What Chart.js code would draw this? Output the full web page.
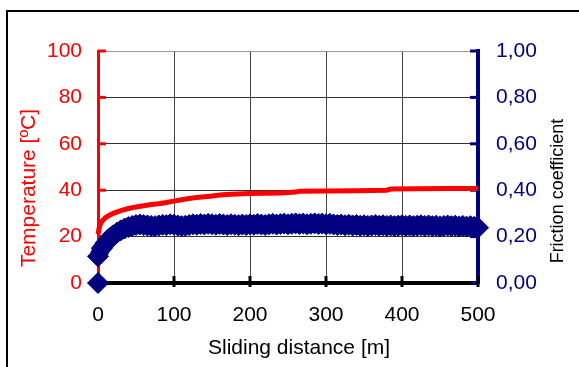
<!DOCTYPE html>
<html>
<head>
<meta charset="utf-8">
<script src="https://cdn.jsdelivr.net/npm/chart.js@4/dist/chart.umd.min.js"></script>
<style>
  html, body { margin: 0; padding: 0; background: #fff; }
  #wrap { width: 579px; height: 367px; position: relative; }
</style>
</head>
<body>
<div id="wrap"><canvas id="c" width="579" height="367"></canvas></div>
<script>
// Temperature trace: sliding distance [m] and temperature [ºC]
const tempDistance = [0, 2, 5, 10, 15, 20, 30, 40, 50, 60, 70, 80, 90, 100, 110, 120, 130, 140, 150, 160, 175, 200, 220, 240, 260, 265, 300, 340, 380, 385, 420, 460, 500];
const temperature  = [21, 24.5, 26.5, 28.2, 29.2, 30, 31.2, 32.1, 32.8, 33.3, 33.8, 34.2, 34.7, 35.3, 35.9, 36.4, 36.9, 37.2, 37.5, 37.9, 38.3, 38.6, 38.7, 38.8, 39.2, 39.6, 39.7, 39.8, 40.0, 40.5, 40.6, 40.7, 40.7];

// Friction coefficient record: sliding distance [m] and coefficient
const frictionDistance = [0, 0, 5, 10, 15, 20, 25, 30, 35, 40, 45, 50, 55, 60, 65, 70, 75, 80, 85, 90, 95,
  100, 105, 110, 115, 120, 125, 130, 135, 140, 145, 150, 155, 160, 165, 170, 175, 180, 185, 190, 195,
  200, 205, 210, 215, 220, 225, 230, 235, 240, 245, 250, 255, 260, 265, 270, 275, 280, 285, 290, 295,
  300, 305, 310, 315, 320, 325, 330, 335, 340, 345, 350, 355, 360, 365, 370, 375, 380, 385, 390, 395,
  400, 405, 410, 415, 420, 425, 430, 435, 440, 445, 450, 455, 460, 465, 470, 475, 480, 485, 490, 495, 500];
const friction = [0.000, 0.115, 0.150, 0.172, 0.190, 0.205, 0.217, 0.227, 0.235, 0.241, 0.246, 0.250, 0.252, 0.250, 0.248, 0.246, 0.245, 0.248, 0.251, 0.249, 0.253,
  0.251, 0.248, 0.245, 0.247, 0.250, 0.253, 0.251, 0.254, 0.252, 0.255, 0.253, 0.251, 0.254, 0.252, 0.250, 0.253, 0.251, 0.249, 0.252, 0.250,
  0.253, 0.251, 0.254, 0.252, 0.250, 0.253, 0.255, 0.252, 0.254, 0.256, 0.253, 0.255, 0.257, 0.254, 0.256, 0.253, 0.255, 0.257, 0.254, 0.256,
  0.253, 0.255, 0.252, 0.250, 0.252, 0.249, 0.251, 0.248, 0.250, 0.247, 0.249, 0.246, 0.248, 0.250, 0.247, 0.249, 0.246, 0.248, 0.245, 0.247,
  0.249, 0.246, 0.248, 0.245, 0.247, 0.249, 0.246, 0.248, 0.245, 0.247, 0.244, 0.246, 0.248, 0.245, 0.247, 0.244, 0.246, 0.243, 0.245, 0.242, 0.238];

// Axis tick settings
const tempTicks = { min: 0, max: 100, step: 20 };
const frictionTicks = { min: 0, max: 1, step: 0.2 };
const distanceTicks = { min: 0, max: 500, step: 100 };

const RED = '#ff0000';
const NAVY = '#000080';
const FONT = '"Liberation Sans", Arial, sans-serif';

const pairs = (xs, ys) => xs.map((x, i) => ({ x: x, y: ys[i] }));

// Frame, inward tick marks and axis titles
const decorations = {
  id: 'decorations',
  beforeDraw(chart) {
    const ctx = chart.ctx;
    ctx.save();
    ctx.fillStyle = '#fff';
    ctx.fillRect(0, 0, chart.width, chart.height);
    ctx.strokeStyle = '#000';
    ctx.lineWidth = 2;
    ctx.beginPath();
    ctx.moveTo(7, chart.height);
    ctx.lineTo(7, 11);
    ctx.lineTo(chart.width, 11);
    ctx.stroke();
    ctx.restore();
  },
  beforeDatasetsDraw(chart) {
    const ctx = chart.ctx;
    const { x, y, y1 } = chart.scales;
    const area = chart.chartArea;
    ctx.save();
    ctx.lineWidth = 3;
    ctx.strokeStyle = RED;
    y.ticks.forEach(t => {
      const py = y.getPixelForValue(t.value);
      ctx.beginPath(); ctx.moveTo(area.left, py); ctx.lineTo(area.left + 8, py); ctx.stroke();
    });
    ctx.strokeStyle = NAVY;
    y1.ticks.forEach(t => {
      const py = y1.getPixelForValue(t.value);
      ctx.beginPath(); ctx.moveTo(area.right, py); ctx.lineTo(area.right - 8, py); ctx.stroke();
    });
    ctx.strokeStyle = '#000';
    x.ticks.forEach(t => {
      const px = x.getPixelForValue(t.value);
      ctx.beginPath(); ctx.moveTo(px, area.bottom - 7); ctx.lineTo(px, area.bottom + 4); ctx.stroke();
    });
    ctx.restore();
  },
  afterDraw(chart) {
    const ctx = chart.ctx;
    ctx.save();
    ctx.textAlign = 'center';
    ctx.textBaseline = 'middle';
    // left title
    ctx.fillStyle = RED;
    ctx.font = '21px ' + FONT;
    ctx.translate(29, 188);
    ctx.rotate(-Math.PI / 2);
    ctx.fillText('Temperature [ºC]', 0, 0);
    ctx.setTransform(1, 0, 0, 1, 0, 0);
    // right title
    ctx.fillStyle = '#000';
    ctx.font = '18px ' + FONT;
    ctx.translate(558, 191);
    ctx.rotate(-Math.PI / 2);
    ctx.fillText('Friction coefficient', 0, 0);
    ctx.setTransform(1, 0, 0, 1, 0, 0);
    // bottom title
    ctx.font = '21px ' + FONT;
    ctx.fillText('Sliding distance [m]', 299, 348);
    ctx.restore();
  }
};

new Chart(document.getElementById('c'), {
  type: 'line',
  data: {
    datasets: [
      {
        label: 'Temperature',
        data: pairs(tempDistance, temperature),
        yAxisID: 'y',
        borderColor: RED,
        borderWidth: 5,
        pointRadius: 0,
        tension: 0,
        clip: false
      },
      {
        label: 'Friction coefficient',
        data: pairs(frictionDistance, friction),
        yAxisID: 'y1',
        borderColor: NAVY,
        borderWidth: 17,
        tension: 0,
        segment: {
          // the lone zero reading at the start is not joined to the trace
          borderColor: c => (c.p0DataIndex === 0 ? 'rgba(0,0,0,0)' : NAVY)
        },
        pointStyle: 'rectRot',
        pointRadius: 10.5,
        pointBackgroundColor: NAVY,
        pointBorderColor: NAVY,
        pointBorderWidth: 1,
        clip: false
      }
    ]
  },
  options: {
    responsive: false,
    animation: false,
    events: [],
    layout: { padding: { top: 51, left: 0, right: 0, bottom: 0 } },
    plugins: { legend: { display: false }, tooltip: { enabled: false } },
    scales: {
      x: {
        type: 'linear',
        min: distanceTicks.min,
        max: distanceTicks.max,
        afterFit: s => { s.height = 84; },
        ticks: {
          stepSize: distanceTicks.step,
          color: '#000',
          font: { family: FONT, size: 21 },
          padding: 20,
          maxRotation: 0
        },
        grid: { color: '#444', lineWidth: 1, drawTicks: false },
        border: { color: '#000', width: 4 }
      },
      y: {
        position: 'left',
        min: tempTicks.min,
        max: tempTicks.max,
        afterFit: s => { s.width = 98; },
        ticks: {
          stepSize: tempTicks.step,
          color: RED,
          font: { family: FONT, size: 21 },
          padding: 16
        },
        grid: {
          color: c => (c.tick && c.tick.value === tempTicks.max ? '#999' : '#333'),
          lineWidth: 1,
          drawTicks: false
        },
        border: { color: RED, width: 3 }
      },
      y1: {
        position: 'right',
        min: frictionTicks.min,
        max: frictionTicks.max,
        afterFit: s => { s.width = 101; },
        ticks: {
          stepSize: frictionTicks.step,
          color: NAVY,
          font: { family: FONT, size: 21 },
          padding: 18,
          callback: v => Number(v).toFixed(2).replace('.', ',')
        },
        grid: { drawOnChartArea: false, drawTicks: false },
        border: { color: NAVY, width: 4 }
      }
    }
  },
  plugins: [decorations]
});
</script>
</body>
</html>
